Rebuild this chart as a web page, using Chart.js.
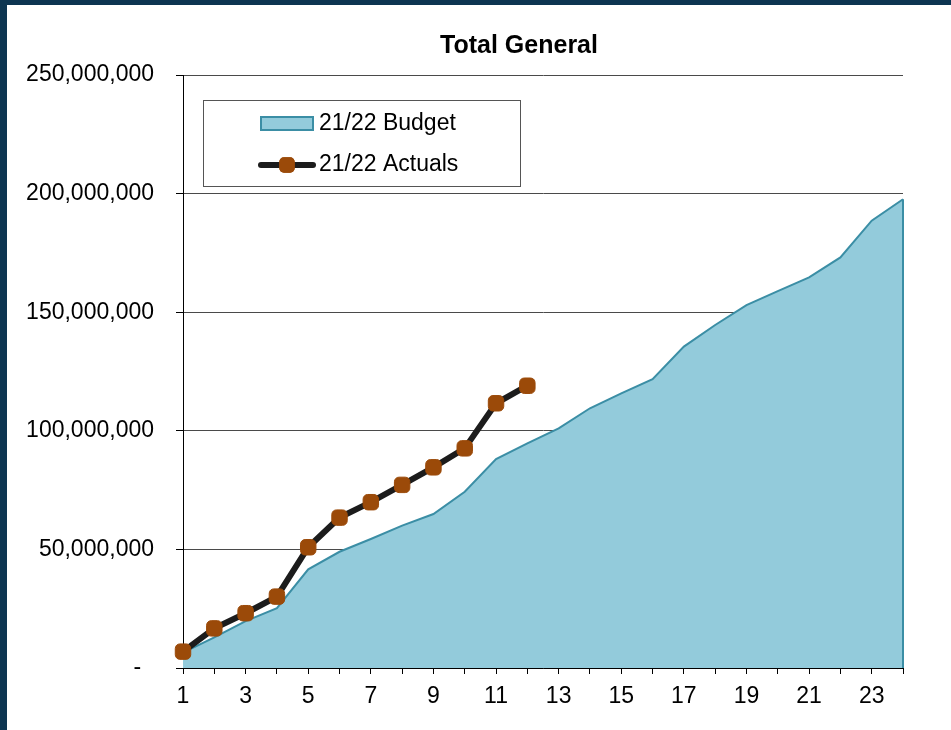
<!DOCTYPE html>
<html>
<head>
<meta charset="utf-8">
<script src="https://cdn.jsdelivr.net/npm/chart.js@4"></script>
<style>
  html, body { margin: 0; padding: 0; background: #0d3551; }
  #frame { position: absolute; left: 7px; top: 5px; width: 944px; height: 725px; background: #fff; }
  canvas { display: block; }
</style>
</head>
<body>
<div id="frame"><canvas id="totalChart" width="944" height="725"></canvas></div>
<script>
const chartTitle = 'Total General';
const periods = ['1','2','3','4','5','6','7','8','9','10','11','12','13','14','15','16','17','18','19','20','21','22','23','24'];

// cumulative budget for the year
const budget2122 = [6500000, 12900000, 19800000, 25200000, 41600000, 49000000, 54400000, 60000000,
  64900000, 74300000, 88100000, 94700000, 101000000, 109500000, 115800000, 121800000,
  135500000, 144600000, 153000000, 158900000, 164700000, 173100000, 188600000, 197600000];

// actuals so far
const actuals2122 = [6900000, 16700000, 23100000, 30100000, 50900000, 63400000, 69900000, 77200000,
  84600000, 92600000, 111600000, 119000000];

const yTicks = [0, 50000000, 100000000, 150000000, 200000000, 250000000];

const FONT = "'Liberation Sans', Arial, sans-serif";
Chart.defaults.font.family = FONT;
Chart.defaults.color = '#000';

// title over the plot, budget area closing edge and the boxed legend
const extras = {
    id: 'extras',
    afterDatasetsDraw(chart) {
        const ctx = chart.ctx;
        const meta = chart.getDatasetMeta(1);
        const last = meta.data[meta.data.length - 1];
        const base = chart.scales.y.getPixelForValue(0);
        ctx.save();
        ctx.strokeStyle = '#3b8ea5';
        ctx.lineWidth = 2;
        ctx.beginPath();
        ctx.moveTo(last.x, last.y);
        ctx.lineTo(last.x, base);
        ctx.stroke();
        ctx.restore();
    },
    afterDraw(chart) {
        const ctx = chart.ctx;
        const a = chart.chartArea;

        ctx.save();
        ctx.fillStyle = '#000';
        ctx.font = 'bold 25px ' + FONT;
        ctx.textAlign = 'center';
        ctx.textBaseline = 'middle';
        ctx.fillText(chartTitle, (a.left + a.right) / 2 - 24, 41);
        ctx.restore();

        const bx = a.left + 20, by = a.top + 25, bw = 317, bh = 86;
        ctx.save();
        ctx.fillStyle = '#fff';
        ctx.fillRect(bx, by, bw, bh);
        ctx.strokeStyle = '#555';
        ctx.lineWidth = 1;
        ctx.strokeRect(bx + 0.5, by + 0.5, bw, bh);

        // budget swatch
        ctx.fillStyle = '#93cbdb';
        ctx.strokeStyle = '#3b8ea5';
        ctx.lineWidth = 2;
        ctx.fillRect(bx + 58, by + 17, 52, 13);
        ctx.strokeRect(bx + 58, by + 17, 52, 13);

        // actuals line + marker
        ctx.strokeStyle = '#1c1c1c';
        ctx.lineWidth = 6;
        ctx.lineCap = 'round';
        ctx.beginPath();
        ctx.moveTo(bx + 58, by + 65);
        ctx.lineTo(bx + 110, by + 65);
        ctx.stroke();
        ctx.fillStyle = '#9b4a09';
        ctx.beginPath();
        Chart.helpers.drawPoint(ctx, { pointStyle: 'rectRounded', radius: 9, borderWidth: 0 }, bx + 84, by + 65);
        ctx.fill();

        ctx.fillStyle = '#000';
        ctx.font = '23px ' + FONT;
        ctx.textBaseline = 'middle';
        ctx.fillText(chart.data.datasets[1].label, bx + 116, by + 24);
        ctx.fillText(chart.data.datasets[0].label, bx + 116, by + 65);
        ctx.restore();
    }
};

new Chart(document.getElementById('totalChart'), {
    type: 'line',
    data: {
        labels: periods,
        datasets: [
            {
                label: '21/22 Actuals',
                data: actuals2122,
                borderColor: '#1c1c1c',
                borderWidth: 6,
                pointStyle: 'rectRounded',
                pointRadius: 9,
                pointBackgroundColor: '#9b4a09',
                pointBorderColor: '#9b4a09',
                pointBorderWidth: 1,
                fill: false,
                clip: false,
                tension: 0
            },
            {
                label: '21/22 Budget',
                data: budget2122,
                borderColor: '#3b8ea5',
                borderWidth: 2,
                backgroundColor: '#93cbdb',
                pointRadius: 0,
                fill: 'origin',
                tension: 0
            }
        ]
    },
    options: {
        responsive: false,
        animation: false,
        layout: { padding: { left: 0, right: 48, top: 70, bottom: 0 } },
        plugins: {
            legend: { display: false },
            tooltip: { enabled: false },
            title: { display: false }
        },
        scales: {
            x: {
                grid: { display: true, drawOnChartArea: false, drawTicks: true, tickLength: 6, tickColor: '#000' },
                border: { display: true, color: '#000', width: 1 },
                ticks: {
                    autoSkip: false,
                    maxRotation: 0,
                    padding: 9,
                    font: { size: 23 },
                    callback: (v, i) => i % 2 === 0 ? periods[i] : ''
                },
                afterFit: s => { s.height = 62; }
            },
            y: {
                min: yTicks[0],
                max: yTicks[yTicks.length - 1],
                afterBuildTicks: s => { s.ticks = yTicks.map(v => ({ value: v })); },
                grid: { color: '#4a4a4a', lineWidth: 1, drawTicks: true, tickLength: 7, tickColor: '#000' },
                border: { display: true, color: '#000', width: 1 },
                ticks: {
                    padding: 22,
                    font: { size: 23 },
                    callback: v => v === 0 ? '-  ' : v.toLocaleString('en-US')
                },
                afterFit: s => { s.width = 176; }
            }
        }
    },
    plugins: [extras]
});
</script>
</body>
</html>
